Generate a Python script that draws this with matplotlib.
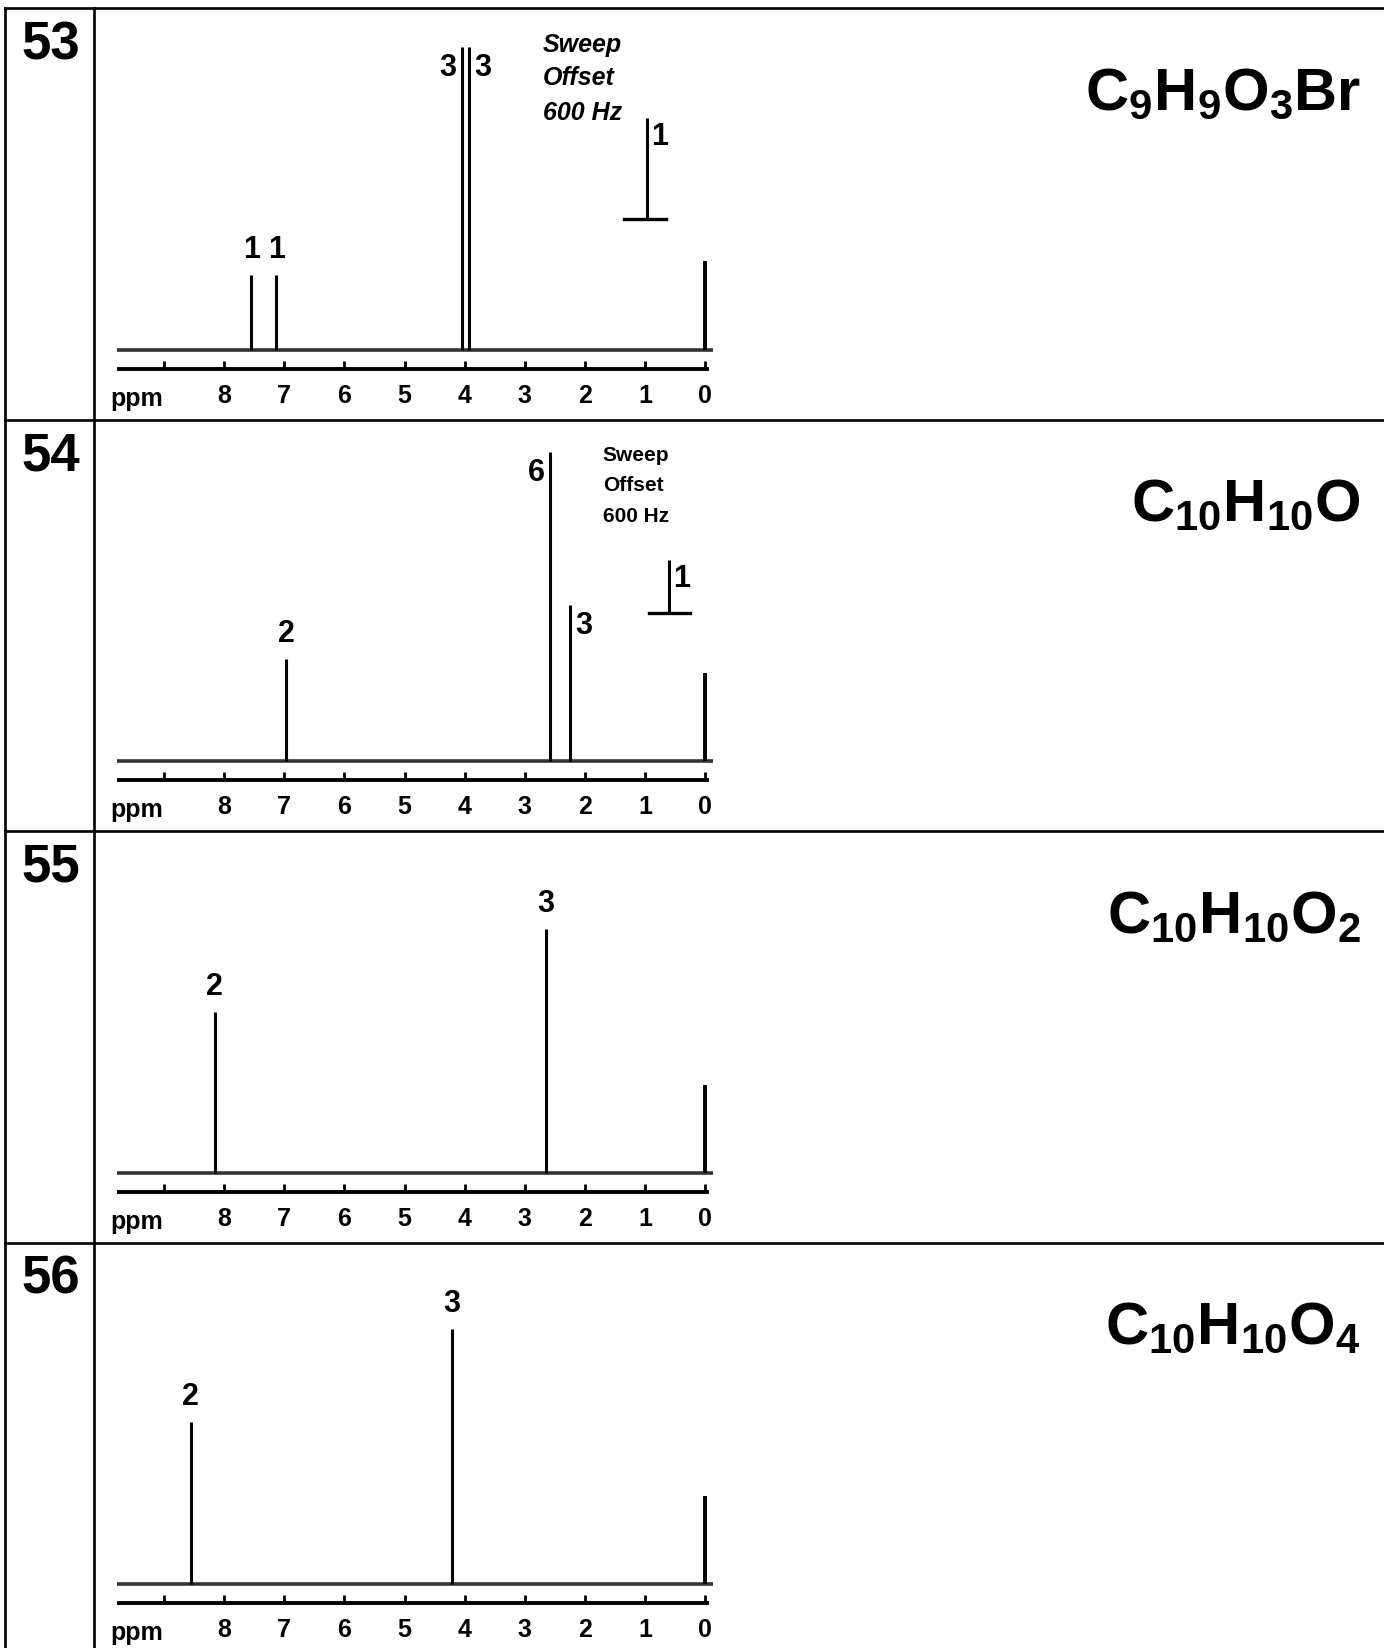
import matplotlib
matplotlib.use("Agg")
import matplotlib.pyplot as plt
from matplotlib.lines import Line2D

plt.rcParams['font.family'] = ['Liberation Sans', 'DejaVu Sans']
plt.rcParams['font.weight'] = 'bold'
plt.rcParams['mathtext.fontset'] = 'custom'
plt.rcParams['mathtext.rm'] = 'Liberation Sans:bold'
plt.rcParams['mathtext.bf'] = 'Liberation Sans:bold'

W, H = 1384, 1649

# problem numbers and formulas
numbers = ["53", "54", "55", "56"]
formulas = [r"$\mathregular{C_9H_9O_3Br}$", r"$\mathregular{C_{10}H_{10}O}$",
            r"$\mathregular{C_{10}H_{10}O_2}$", r"$\mathregular{C_{10}H_{10}O_4}$"]

# peaks: shift (ppm), height (px above baseline), integration label, label side
peak_ppm = [[7.55, 7.13, 4.05, 3.93], [6.97, 2.58, 2.25], [8.16, 2.65], [8.56, 4.21]]
peak_height = [[75, 75, 303, 303], [102, 309, 156], [161, 244], [162, 255]]
peak_label = [["1", "1", "3", "3"], ["2", "6", "3"], ["2", "3"], ["2", "3"]]
label_side = [["top", "top", "left", "right"], ["top", "left", "right"], ["top", "top"], ["top", "top"]]
tms_height = [89, 88, 88, 88]

# sweep offset signal (ppm, top, bar height, bar from, bar to, label)
sweep_ppm = [0.97, 0.60]
sweep_top = [232, 201]
sweep_bar = [131, 148]
sweep_from = [1.34, 0.93]
sweep_to = [0.65, 0.25]
sweep_label = ["1", "1"]
sweep_text = ["Sweep", "Offset", "600 Hz"]
sweep_text_ppm = [2.70, 1.70]
sweep_text_y = [[306, 273, 238], [307, 277, 246]]

ticks = [9, 8, 7, 6, 5, 4, 3, 2, 1, 0]
tick_labels = ["", "8", "7", "6", "5", "4", "3", "2", "1", "0"]

row_top = [9, 420.5, 832, 1243.5]
base_off = 341.8

fig = plt.figure(figsize=(W / 100, H / 100), dpi=100)


def fx(x):
    return x / W


def fy(y):
    return 1 - y / H


# frame lines
lw_frame = 1.9
fig.add_artist(Line2D([fx(5), 1], [fy(9), fy(9)], color="black", lw=lw_frame))
fig.add_artist(Line2D([fx(5), fx(5)], [fy(9), 0], color="black", lw=lw_frame))
fig.add_artist(Line2D([fx(94), fx(94)], [fy(9), 0], color="black", lw=lw_frame))
for t in row_top[1:]:
    fig.add_artist(Line2D([fx(5), 1], [fy(t), fy(t)], color="black", lw=lw_frame))

# ppm scale: 0 ppm at x=705 px, 60.1 px per ppm
x0, k = 705, 60.1
ax_left, ax_right = 100, 740
for i in range(4):
    top = row_top[i]
    base = top + base_off
    ax_top, ax_bot = top + 5, top + 408
    ax = fig.add_axes([fx(ax_left), fy(ax_bot), (ax_right - ax_left) / W, (ax_bot - ax_top) / H])
    ax.set_xlim((x0 - ax_left) / k, (x0 - ax_right) / k)
    ax.set_ylim(-(ax_bot - base), base - ax_top)
    ax.patch.set_visible(False)
    for s in ["top", "left", "right"]:
        ax.spines[s].set_visible(False)
    ax.spines["bottom"].set_position(("data", -19))
    ax.spines["bottom"].set_bounds(-0.03, 9.75)
    ax.spines["bottom"].set_linewidth(2.8)
    ax.set_yticks([])
    ax.set_xticks(ticks)
    ax.set_xticklabels(tick_labels, fontsize=18, fontweight="bold")
    ax.tick_params(axis="x", direction="in", length=6, width=2, pad=10)
    ax.text(9.45, -48, "ppm", ha="center", va="center", fontsize=18, fontweight="bold")

    # baseline
    ax.plot([9.78, -0.13], [0, 0], color="#333333", lw=2.6, solid_capstyle="butt")
    # TMS reference
    ax.vlines(0, 0, tms_height[i], color="black", lw=2.8)
    # peaks
    for p, h, lab, side in zip(peak_ppm[i], peak_height[i], peak_label[i], label_side[i]):
        ax.vlines(p, 0, h, color="black", lw=2.2)
        if side == "top":
            ax.text(p, h + 26, lab, ha="center", va="center", fontsize=22, fontweight="bold")
        elif side == "left":
            ax.text(p + 0.09, h - 20, lab, ha="right", va="center", fontsize=22, fontweight="bold")
        else:
            ax.text(p - 0.09, h - 20, lab, ha="left", va="center", fontsize=22, fontweight="bold")

    # sweep offset
    if i < 2:
        ax.vlines(sweep_ppm[i], sweep_bar[i], sweep_top[i], color="black", lw=2.2)
        ax.plot([sweep_from[i], sweep_to[i]], [sweep_bar[i], sweep_bar[i]], color="black", lw=2.4)
        ax.text(sweep_ppm[i] - 0.07, sweep_top[i] - 18, sweep_label[i], ha="left", va="center",
                fontsize=22, fontweight="bold")
        for line, yy in zip(sweep_text, sweep_text_y[i]):
            ax.text(sweep_text_ppm[i], yy, line, ha="left", va="center",
                    fontsize=18 if i == 0 else 15, fontweight="bold",
                    fontstyle="italic" if i == 0 else "normal")

    # problem number and formula
    fig.text(fx(51), fy(top + 36), numbers[i], ha="center", va="center", fontsize=38, fontweight="bold")
    fig.text(fx(1361), fy(top + 85), formulas[i], ha="right", va="center", fontsize=43, fontweight="bold")

fig.savefig("out.png", dpi=100)
